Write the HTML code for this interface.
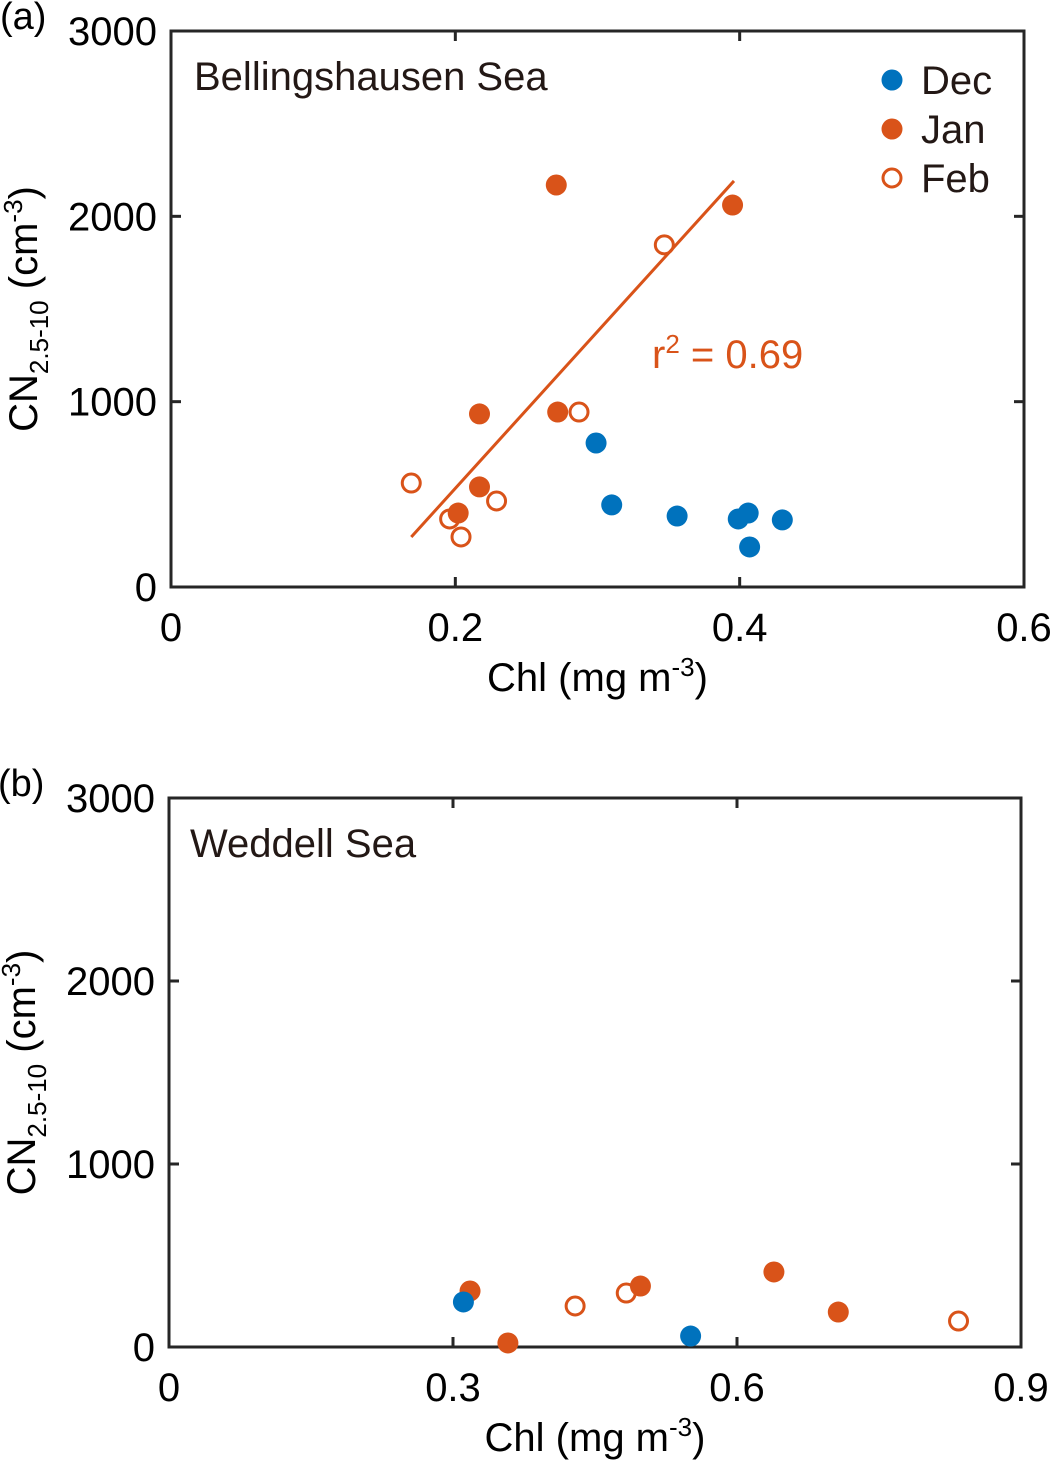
<!DOCTYPE html>
<html><head><meta charset="utf-8"><style>
html,body{margin:0;padding:0;background:#fff;width:1050px;height:1467px;overflow:hidden}
svg{display:block;font-family:"Liberation Sans",Arial,sans-serif}
</style></head><body>
<svg id="c" width="1050" height="1467" viewBox="0 0 1050 1467"></svg>
<script>
// Panel (a) data
const aDecX=[0.299,0.310,0.356,0.399,0.406,0.407,0.430];
const aDecY=[777,443,383,367,399,216,362];
const aJanX=[0.271,0.395,0.217,0.272,0.217,0.202];
const aJanY=[2169,2061,934,944,540,399];
const aFebX=[0.347,0.287,0.169,0.229,0.196,0.204];
const aFebY=[1846,944,561,464,367,270];
const aFitX=[0.169,0.396];
const aFitY=[270,2191];
const aXTicks=[0,0.2,0.4,0.6];
const aXLabels=["0","0.2","0.4","0.6"];
const yTicks=[0,1000,2000,3000];
const yLabels=["0","1000","2000","3000"];
// Panel (b) data
const bDecX=[0.311,0.551];
const bDecY=[246,60];
const bJanX=[0.318,0.358,0.498,0.639,0.707];
const bJanY=[306,22,333,410,191];
const bFebX=[0.429,0.483,0.834];
const bFebY=[224,295,142];
const bXTicks=[0,0.3,0.6,0.9];
const bXLabels=["0","0.3","0.6","0.9"];

const NS="http://www.w3.org/2000/svg";
const svg=document.getElementById('c');
const BLUE="#0072BD",ORANGE="#D95319",AX="#262626";
function mk(tag,attrs,parent,text){const e=document.createElementNS(NS,tag);for(const k in attrs)e.setAttribute(k,attrs[k]);if(text!==undefined)e.textContent=text;(parent||svg).appendChild(e);return e;}

function panel(o){
  const g=mk('g',{});
  
  
  const sx=v=>o.x0+(v-o.xmin)/(o.xmax-o.xmin)*(o.x1-o.x0);
  const sy=v=>o.y1-(v/3000)*(o.y1-o.y0);
  const box=mk('rect',{x:o.x0,y:o.y0,width:o.x1-o.x0,height:o.y1-o.y0,fill:'none',stroke:AX,'stroke-width':3},g);
  
  
  o.xt.forEach((t,i)=>{
    const x=sx(t);
    mk('line',{x1:x,x2:x,y1:o.y1,y2:o.y1-10,stroke:AX,'stroke-width':3},g);
    mk('line',{x1:x,x2:x,y1:o.y0,y2:o.y0+10,stroke:AX,'stroke-width':3},g);
    const tx=mk('text',{x:x,y:o.y1+54,'font-size':40,'text-anchor':'middle',fill:'#000'},g,o.xl[i]);
    
    
  });
  yTicks.forEach((t,i)=>{
    const y=sy(t);
    mk('line',{x1:o.x0,x2:o.x0+10,y1:y,y2:y,stroke:AX,'stroke-width':3},g);
    mk('line',{x1:o.x1,x2:o.x1-10,y1:y,y2:y,stroke:AX,'stroke-width':3},g);
    const ty=mk('text',{x:o.x0-14,y:y+14,'font-size':40,'text-anchor':'end',fill:'#000'},g,yLabels[i]);
    
    
  });
  const xlab=mk('text',{x:(o.x0+o.x1)/2,y:o.y1+104,'font-size':40,'text-anchor':'middle',fill:'#000'},g);
  
  
  xlab.innerHTML='Chl (mg m<tspan dy="-15" font-size="26">-3</tspan><tspan dy="15">)</tspan>';
  const ylab=mk('text',{transform:`translate(${o.x0-134},${(o.y0+o.y1)/2}) rotate(-90)`,'font-size':40,'text-anchor':'middle',fill:'#000'},g);
  
  
  ylab.innerHTML='CN<tspan dy="11" font-size="26">2.5-10</tspan><tspan dy="-11"> (cm</tspan><tspan dy="-15" font-size="26">-3</tspan><tspan dy="15">)</tspan>';
  const pl=mk('text',{x:o.x0-171,y:o.y0-2,'font-size':38,fill:'#000'},g,o.letter);
  
  
  const tt=mk('text',{x:o.titleX,y:o.y0+59,'font-size':40,fill:'#231815'},g,o.title);
  
  
  if(o.fitX){
    const ln=mk('line',{x1:sx(o.fitX[0]),y1:sy(o.fitY[0]),x2:sx(o.fitX[1]),y2:sy(o.fitY[1]),stroke:ORANGE,'stroke-width':3},g);
    
    
  }
  function series(X,Y,fill,stroke,name){
    X.forEach((v,i)=>{
      const c=mk('circle',{cx:sx(v),cy:sy(Y[i]),r:fill==='none'?9:10.5,fill:fill,stroke:stroke,'stroke-width':fill==='none'?3:0},g);
      
      
    });
  }
  series(o.febX,o.febY,'none',ORANGE,'point-feb');
  series(o.janX,o.janY,ORANGE,ORANGE,'point-jan');
  series(o.decX,o.decY,BLUE,BLUE,'point-dec');
  return {g,sx,sy};
}

const A=panel({name:'panel-a',x0:171,x1:1024,y0:31,y1:587,xmin:0,xmax:0.6,xt:aXTicks,xl:aXLabels,letter:'(a)',title:'Bellingshausen Sea',titleX:194,
  decX:aDecX,decY:aDecY,janX:aJanX,janY:aJanY,febX:aFebX,febY:aFebY,fitX:aFitX,fitY:aFitY});
const B=panel({name:'panel-b',x0:169,x1:1021,y0:798,y1:1347,xmin:0,xmax:0.9,xt:bXTicks,xl:bXLabels,letter:'(b)',title:'Weddell Sea',titleX:190,
  decX:bDecX,decY:bDecY,janX:bJanX,janY:bJanY,febX:bFebX,febY:bFebY});

const r2=mk('text',{x:652,y:368,'font-size':40,fill:ORANGE});


r2.innerHTML='r<tspan dy="-15" font-size="26">2</tspan><tspan dy="15"> = 0.69</tspan>';

const legend=mk('g',{});


[['Dec',BLUE,BLUE,80],['Jan',ORANGE,ORANGE,129],['Feb','none',ORANGE,178]].forEach(d=>{
  const e=mk('g',{},legend);
  
  
  mk('circle',{cx:892,cy:d[3],r:d[1]==='none'?9:10.5,fill:d[1],stroke:d[2],'stroke-width':d[1]==='none'?3:0},e);
  mk('text',{x:921,y:d[3]+14,'font-size':40,fill:'#231815'},e,d[0]);
});
</script>
</body></html>
